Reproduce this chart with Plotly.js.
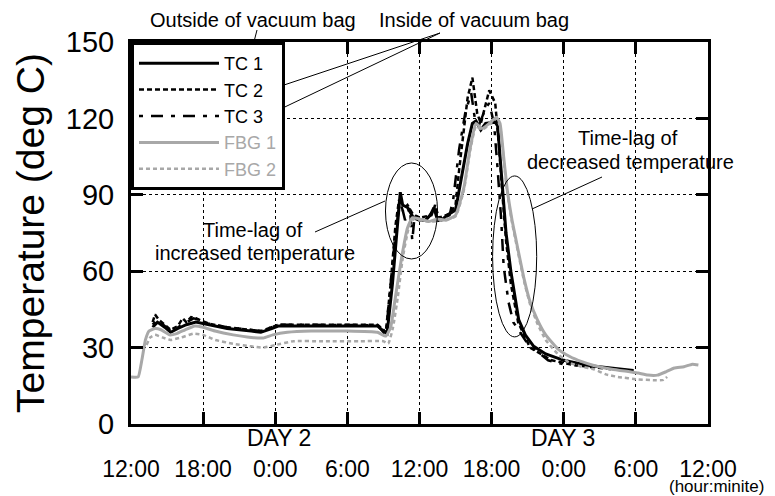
<!DOCTYPE html>
<html>
<head>
<meta charset="utf-8">
<script src="https://cdn.plot.ly/plotly-3.0.1.min.js"></script>
<style>html,body{margin:0;padding:0;background:#fff;}#chart{width:775px;height:496px;}</style>
</head>
<body>
<div id="chart"></div>
<script>
// ---- Data (x = hours since 12:00 of day 1, y = temperature in deg C) ----
const tickHours = [0, 6, 12, 18, 24, 30, 36, 42, 48];
const tickLabels = ["12:00", "18:00", "0:00", "6:00", "12:00", "18:00", "0:00", "6:00", "12:00"];
const tempTicks = [0, 30, 60, 90, 120, 150];

const seriesNames = ["TC 1", "TC 2", "TC 3", "FBG 1", "FBG 2"];

const hoursTC1 = [1.8, 2.2, 2.8, 3.3, 3.9, 4.6, 5.4, 6.4, 8.0, 10.0, 10.8, 11.7, 12.3, 15.0, 18.0, 20.5, 21.0, 21.3,
  21.75, 22.2, 22.4, 22.6, 23.0, 23.5, 24.0, 24.5, 24.9, 25.2, 25.5, 25.8, 26.3, 27.0, 27.4, 28.0, 28.4, 28.7, 29.1,
  29.5, 30.3, 30.5, 30.7, 30.9, 31.2, 31.6, 32.25, 32.8, 33.5, 34.5, 36.0, 38.0, 40.0, 41.8];
const tempTC1 = [38, 40, 38, 36, 37.5, 39, 40, 39, 37.5, 36.5, 36, 37.5, 38.5, 38.5, 38.5, 38.5, 36.5, 35.5,
  55, 80, 91, 86, 85, 81, 80, 80, 82, 85, 80, 80, 82, 84, 95, 110, 118, 119, 115.5,
  118, 118.5, 117, 105, 92, 75, 60, 41, 35, 30.5, 27.5, 25, 23, 22, 21];

const hoursTC2 = [1.8, 2.0, 2.3, 2.8, 3.3, 3.9, 4.3, 4.6, 5.0, 5.4, 6.4, 8.0, 10.0, 10.8, 11.7, 12.3, 15.0, 18.0, 20.5,
  21.0, 21.2, 21.6, 22.0, 22.3, 22.6, 23.0, 23.5, 24.0, 25.0, 25.3, 25.6, 26.5, 27.0, 27.3, 28.0, 28.4, 28.8, 29.1,
  29.5, 29.8, 30.3, 30.6, 30.9, 31.2, 31.6, 32.2, 33.2, 35.0, 37.0, 40.0, 41.8];
const tempTC2 = [40, 43, 41, 39, 37, 38.5, 41.5, 40, 42, 41.5, 39.5, 38, 37, 36.5, 38, 39, 39, 39, 39,
  37, 36, 55, 78, 88, 84, 86, 82, 81, 82, 86, 81, 82.5, 86, 100, 128, 136, 122, 118,
  125, 131, 126, 110, 90, 72, 55, 40, 30, 25, 23, 21.5, 21];

const hoursTC3 = [1.8, 2.2, 2.8, 3.3, 3.9, 4.6, 5.2, 5.6, 6.4, 8.0, 10.0, 10.8, 11.7, 12.3, 20.5, 21.0, 21.2, 21.6,
  22.0, 22.4, 22.8, 23.2, 23.4, 23.6, 24.5, 25.2, 25.6, 26.5, 26.8, 27.3, 27.8, 28.3, 28.6, 29.0, 29.5, 29.8,
  30.2, 30.5, 30.8, 31.0, 31.4, 31.8, 33.0, 34.7, 35.9];
const tempTC3 = [39, 41, 38.5, 36.5, 38, 40, 41.5, 41, 39.5, 38, 37, 36.5, 38, 39, 38.8, 36, 35, 55,
  75, 88, 80, 85, 72, 82, 80, 84, 80, 82, 88, 108, 122, 130, 120, 118, 124, 126,
  118, 100, 80, 62, 48, 40, 31.5, 25, 23.5];

const hoursFBG1 = [0, 0.6, 0.9, 1.2, 1.5, 2.0, 2.5, 3.2, 3.8, 4.5, 5.3, 6.0, 7.0, 8.5, 10.0, 11.0, 11.8, 13.0, 15.0,
  18.0, 20.5, 21.2, 21.6, 22.0, 22.5, 23.0, 23.4, 24.0, 24.8, 25.5, 26.2, 27.0, 27.7, 28.2, 28.7, 29.2, 29.8, 30.4,
  30.7, 31.0, 31.3, 31.7, 32.0, 32.7, 33.2, 33.8, 34.5, 35.5, 36.5, 37.5, 38.5, 40.0, 41.5, 42.2, 43.0, 43.8, 44.5,
  45.2, 46.0, 46.7, 47.2];
const tempFBG1 = [18.5, 18.5, 25, 33, 36.5, 37.5, 37, 35, 35.5, 37, 38.5, 38, 36.5, 35, 34, 33.8, 35, 36, 36.5,
  36.5, 36, 34.5, 38, 50, 65, 77, 81, 80.5, 79.5, 80.5, 80, 82, 93, 108, 118, 116, 118, 120.5,
  118, 105, 92, 80, 73, 57, 48, 41, 35, 29.5, 26.5, 24.5, 23, 21.5, 20.5, 20, 19.2, 19.2, 20.5,
  22, 22.5, 23.5, 23.2];

const hoursFBG2 = [1.3, 1.6, 2.0, 2.6, 3.3, 4.2, 5.2, 6.0, 7.0, 8.5, 10.0, 11.0, 12.0, 13.5, 16.0, 19.0, 21.0, 21.4,
  21.8, 22.2, 22.6, 23.1, 23.5, 24.0, 25.0, 26.0, 27.0, 27.7, 28.2, 28.7, 29.2, 29.8, 30.4, 30.7, 31.0, 31.3, 31.7,
  32.0, 32.7, 33.2, 33.8, 34.5, 35.5, 36.5, 37.5, 38.5, 39.5, 40.5, 42.2, 43.5, 44.3, 44.6];
const tempFBG2 = [31, 34, 35, 34, 33, 34, 35.5, 35, 33, 31.5, 30.5, 30, 31, 32.5, 32.5, 32.5, 32.5, 31.5,
  38, 50, 65, 77, 80.5, 80, 79.5, 80, 81.5, 92, 107, 117, 115.5, 117.5, 120, 117, 104, 91, 79,
  72, 56, 47, 39.5, 33, 27.5, 24, 22.5, 21.5, 19.5, 18.5, 17.5, 17.2, 17.3, 18.5];

// ---- helpers: pixel -> paper coordinates (plot area 131..708 x 42..424) ----
const PL = 131, PR = 708, PT = 42, PB = 424;
const PX = v => (v - PL) / (PR - PL);
const PY = v => (PB - v) / (PB - PT);

const FONT = "Liberation Sans, Arial, Helvetica, sans-serif";
const GRAY = "#a8a8a8";

const traces = [
  {x: hoursTC1, y: tempTC1, name: seriesNames[0], mode: "lines",
   line: {color: "#000", width: 3}},
  {x: hoursTC2, y: tempTC2, name: seriesNames[1], mode: "lines",
   line: {color: "#000", width: 2.5, dash: "5px,3px"}},
  {x: hoursTC3, y: tempTC3, name: seriesNames[2], mode: "lines",
   line: {color: "#000", width: 2.5, dash: "4px,8px,12px,8px"}},
  {x: hoursFBG1, y: tempFBG1, name: '<span style="color:' + GRAY + '">' + seriesNames[3] + '</span>', mode: "lines",
   line: {color: GRAY, width: 3, shape: "spline", smoothing: 0.4}},
  {x: hoursFBG2, y: tempFBG2, name: '<span style="color:' + GRAY + '">' + seriesNames[4] + '</span>', mode: "lines",
   line: {color: GRAY, width: 2.5, dash: "4px,3px", shape: "spline", smoothing: 0.4}}
];

const axisCommon = {
  showline: true, linewidth: 3, linecolor: "#000", mirror: "ticks",
  ticks: "inside", ticklen: 12, tickwidth: 3, tickcolor: "#000",
  showgrid: true, gridcolor: "#000", gridwidth: 1, griddash: "3px,3px",
  zeroline: false, fixedrange: true
};

const txt = (text, x, y, size) => ({
  text: text, xref: "paper", yref: "paper", x: PX(x), y: PY(y),
  xanchor: "center", yanchor: "middle", showarrow: false, borderpad: 0,
  font: {family: FONT, size: size || 20, color: "#000"}
});
const seg = (x0, y0, x1, y1) => ({
  type: "line", xref: "paper", yref: "paper",
  x0: PX(x0), y0: PY(y0), x1: PX(x1), y1: PY(y1),
  line: {color: "#000", width: 1}
});

const layout = {
  width: 775, height: 496,
  margin: {l: PL, r: 775 - PR, t: PT, b: 496 - PB, pad: 0},
  paper_bgcolor: "#fff", plot_bgcolor: "#fff",
  font: {family: FONT, color: "#000"},
  showlegend: true,
  legend: {
    x: 0, y: 1, xanchor: "left", yanchor: "top",
    bgcolor: "#fff", bordercolor: "#000", borderwidth: 3,
    font: {family: FONT, size: 18, color: "#000"},
    itemwidth: 80, entrywidth: 160, traceorder: "normal"
  },
  xaxis: Object.assign({}, axisCommon, {
    range: [0, 48], tickmode: "array", tickvals: tickHours, ticktext: tickLabels,
    tickfont: {family: FONT, size: 23, color: "#000"}, ticklabelstandoff: 22
  }),
  yaxis: Object.assign({}, axisCommon, {
    range: [0, 150], tickmode: "array", tickvals: tempTicks,
    tickfont: {family: FONT, size: 29, color: "#000"}, ticklabelstandoff: 8,
    title: {text: "Temperature (deg C)", font: {family: FONT, size: 39, color: "#000"}, standoff: 10}
  }),
  shapes: [
    {type: "circle", xref: "x", yref: "y", x0: 21.17, x1: 25.5, y0: 64.8, y1: 102.5,
     line: {color: "#000", width: 1}},
    {type: "circle", xref: "x", yref: "y", x0: 30.08, x1: 33.75, y0: 34.2, y1: 97.4,
     line: {color: "#000", width: 1}},
    seg(257, 30, 248, 65),
    seg(440, 33, 272, 89),
    seg(440, 33, 268, 115),
    seg(315, 232, 385, 201),
    seg(532, 209, 602, 177)
  ],
  annotations: [
    txt("Outside of vacuum bag", 253, 20),
    txt("Inside of vacuum bag", 474, 20),
    txt("Time-lag of", 253, 230),
    txt("increased temperature", 255, 253),
    txt("Time-lag of", 628, 138),
    txt("decreased temperature", 630, 162),
    txt("DAY 2", 279, 438, 23),
    txt("DAY 3", 563, 438, 23),
    txt("(hour:minite)", 716, 486, 17)
  ]
};

Plotly.newPlot("chart", traces, layout, {staticPlot: true, displayModeBar: false});
</script>
</body>
</html>
